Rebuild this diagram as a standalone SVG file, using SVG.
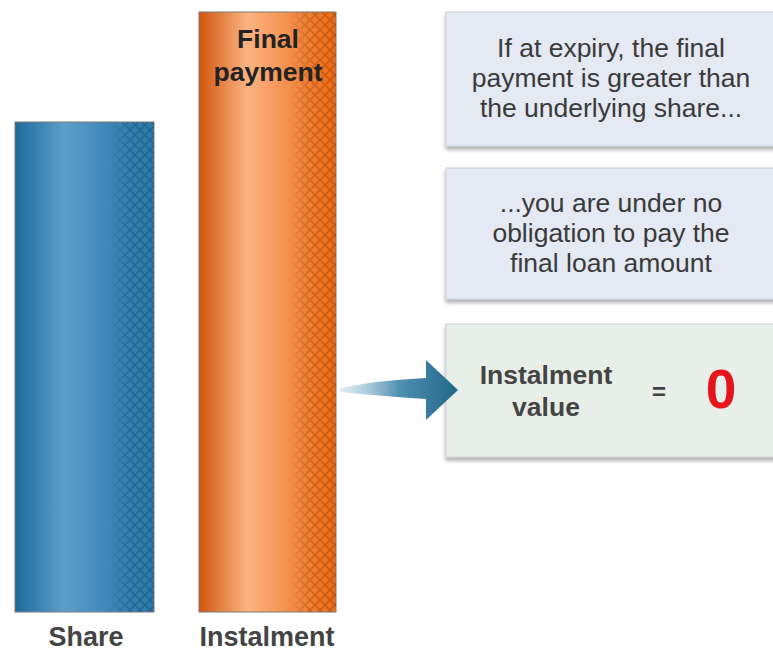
<svg xmlns="http://www.w3.org/2000/svg" width="773" height="651" viewBox="0 0 773 651">
<defs>
<style>
.lbl{font-family:"Liberation Sans",Arial,sans-serif;font-weight:bold;fill:#444;text-anchor:middle}
.bx{font-family:"Liberation Sans",Arial,sans-serif;font-size:26.5px;fill:#3a3a3a;text-anchor:middle}
.box{fill:#e4e9f3;stroke:#c9ced6;stroke-width:1}
.bar{stroke:#7a7a7a;stroke-width:1}
</style>
<linearGradient id="gBlue" x1="0" y1="0" x2="1" y2="0">
<stop offset="0" stop-color="#1c6a9a"/>
<stop offset="0.35" stop-color="#5d9fc9"/>
<stop offset="0.7" stop-color="#3a86b6"/>
<stop offset="1" stop-color="#2878a8"/>
</linearGradient>
<linearGradient id="gOrange" x1="0" y1="0" x2="1" y2="0">
<stop offset="0" stop-color="#d0560e"/>
<stop offset="0.35" stop-color="#fbb382"/>
<stop offset="0.7" stop-color="#f58a45"/>
<stop offset="1" stop-color="#f0680e"/>
</linearGradient>
<linearGradient id="gArrow" x1="340" y1="0" x2="458" y2="0" gradientUnits="userSpaceOnUse">
<stop offset="0" stop-color="#9cc4d8" stop-opacity="0.3"/>
<stop offset="0.5" stop-color="#4f8fb2"/>
<stop offset="1" stop-color="#226688"/>
</linearGradient>
<linearGradient id="gFade" x1="0" y1="0" x2="1" y2="0">
<stop offset="0" stop-color="#fff" stop-opacity="0"/>
<stop offset="0.4" stop-color="#fff" stop-opacity="1"/>
<stop offset="1" stop-color="#fff" stop-opacity="1"/>
</linearGradient>
<pattern id="hatch" width="10" height="10" patternUnits="userSpaceOnUse">
<path d="M0,0 L10,10 M10,0 L0,10" stroke="#000" stroke-width="1.6" stroke-opacity="0.16"/>
</pattern>
<mask id="mBlue"><rect x="110" y="122" width="44" height="490" fill="url(#gFade)"/></mask>
<mask id="mOrange"><rect x="290" y="12" width="46" height="600" fill="url(#gFade)"/></mask>
<filter id="sh" x="-5%" y="-5%" width="110%" height="120%">
<feGaussianBlur in="SourceAlpha" stdDeviation="2"/>
<feOffset dx="0" dy="3"/>
<feComponentTransfer><feFuncA type="linear" slope="0.35"/></feComponentTransfer>
<feMerge><feMergeNode/><feMergeNode in="SourceGraphic"/></feMerge>
</filter>
</defs>
<rect width="773" height="651" fill="#fff"/>

<g id="share">
<rect class="bar" x="15" y="122" width="139" height="490" fill="url(#gBlue)"/>
<rect x="110" y="122" width="44" height="490" fill="url(#hatch)" mask="url(#mBlue)"/>
<text class="lbl" x="86" y="646" font-size="27">Share</text>
</g>

<g id="instalment">
<rect class="bar" x="199" y="12" width="137" height="600" fill="url(#gOrange)"/>
<rect x="290" y="12" width="46" height="600" fill="url(#hatch)" mask="url(#mOrange)"/>
<text class="lbl" x="268" y="48" font-size="26.5" style="fill:#222">Final</text>
<text class="lbl" x="268" y="81" font-size="26.5" style="fill:#222">payment</text>
<text class="lbl" x="267" y="646" font-size="27">Instalment</text>
</g>

<g id="box1">
<rect class="box" x="446" y="12" width="340" height="134" filter="url(#sh)"/>
<text class="bx" x="611" y="57">If at expiry, the final</text>
<text class="bx" x="611" y="87">payment is greater than</text>
<text class="bx" x="611" y="117">the underlying share...</text>
</g>

<g id="box2">
<rect class="box" x="446" y="168" width="340" height="131" filter="url(#sh)"/>
<text class="bx" x="611" y="212">...you are under no</text>
<text class="bx" x="611" y="242">obligation to pay the</text>
<text class="bx" x="611" y="272">final loan amount</text>
</g>

<g id="box3">
<rect class="box" x="446" y="324" width="340" height="133" style="fill:#e8efe8" filter="url(#sh)"/>
<text class="lbl" x="546" y="384" font-size="26.5">Instalment</text>
<text class="lbl" x="546" y="416" font-size="26.5">value</text>
<text class="lbl" x="659" y="400" font-size="24">=</text>
<text class="lbl" x="721" y="408" font-size="55" style="fill:#e8141b">0</text>
</g>

<g id="connectors">
<path d="M340,388 Q380,380 426,378 L426,360 L458,390 L426,420 L426,399 Q380,396 340,392 Z" fill="url(#gArrow)"/>
</g>
</svg>
